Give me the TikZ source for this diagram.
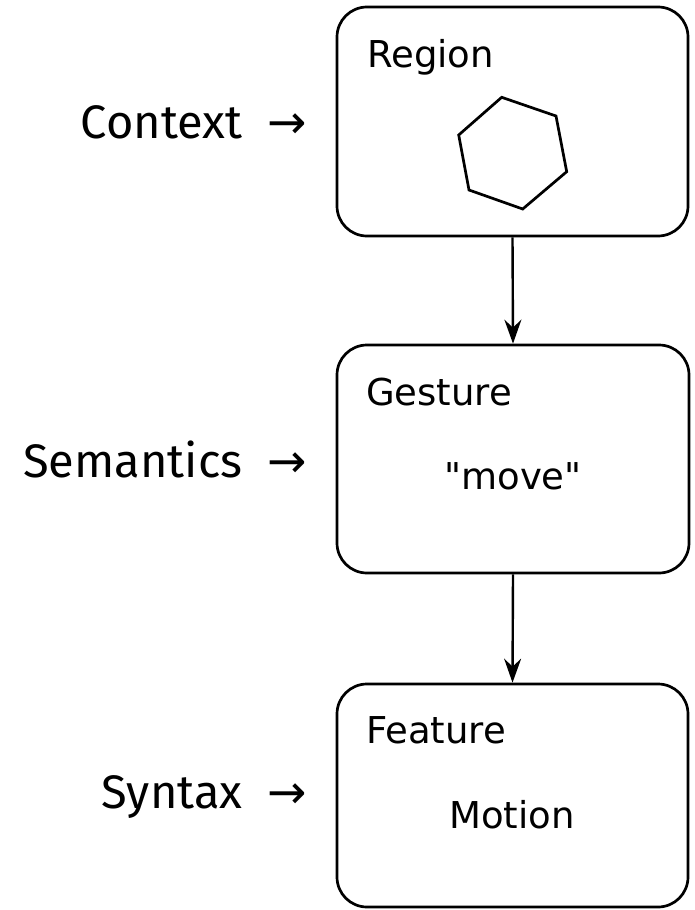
\documentclass[tikz,border=0pt]{standalone}
\usepackage{fontspec}
\setmainfont{DejaVu Sans}[Ligatures=TeXOff]
\newfontfamily\lblfont{Fira Sans}
\newfontfamily\arrfont{DejaVu Sans}
\usetikzlibrary{arrows.meta}
\begin{document}
\begin{tikzpicture}[x=1pt,y=-1pt,
  box/.style={draw, line width=2.7pt, rounded corners=30pt, rectangle, inner sep=0pt},
  title/.style={anchor=base west, inner sep=0pt, font=\fontsize{37}{44}\selectfont},
  content/.style={anchor=base, inner sep=0pt, font=\fontsize{37}{44}\selectfont},
  side/.style={anchor=base east, inner sep=0pt, font=\lblfont\fontsize{47}{54}\selectfont},
  arr/.style={line width=2.4pt, -{Stealth[length=24pt,width=17pt,inset=8pt]}}]
\useasboundingbox (0,0) rectangle (694,910);
\node[box, minimum width=351pt, minimum height=229pt] (b1) at (512.5,121.5) {};
\node[box, minimum width=352pt, minimum height=228pt] (b2) at (513,459) {};
\node[box, minimum width=351pt, minimum height=223pt] (b3) at (512.5,795.5) {};
\node[title] (t1) at (367,67) {Region};
\node[title] (t2) at (366,405) {Gesture};
\node[title] (t3) at (366,743) {Feature};
\draw[line width=2.7pt, line join=miter] (501.7,97.3) -- (556,116) -- (566.7,171.7) -- (522.7,209) -- (469,190) -- (458.7,135) -- cycle;
\node[content] (c2) at (513,489) {"move"};
\node[content] (c3) at (512,828) {Motion};
\node[side] (s1) at (307,138) {Context\ \ {\arrfont →}};
\node[side] (s2) at (307,477) {Semantics\ \ {\arrfont →}};
\node[side] (s3) at (307,808) {Syntax\ \ {\arrfont →}};
\draw[arr] (b1.south) -- (b2.north);
\draw[arr] (b2.south) -- (b3.north);
\end{tikzpicture}
\end{document}
